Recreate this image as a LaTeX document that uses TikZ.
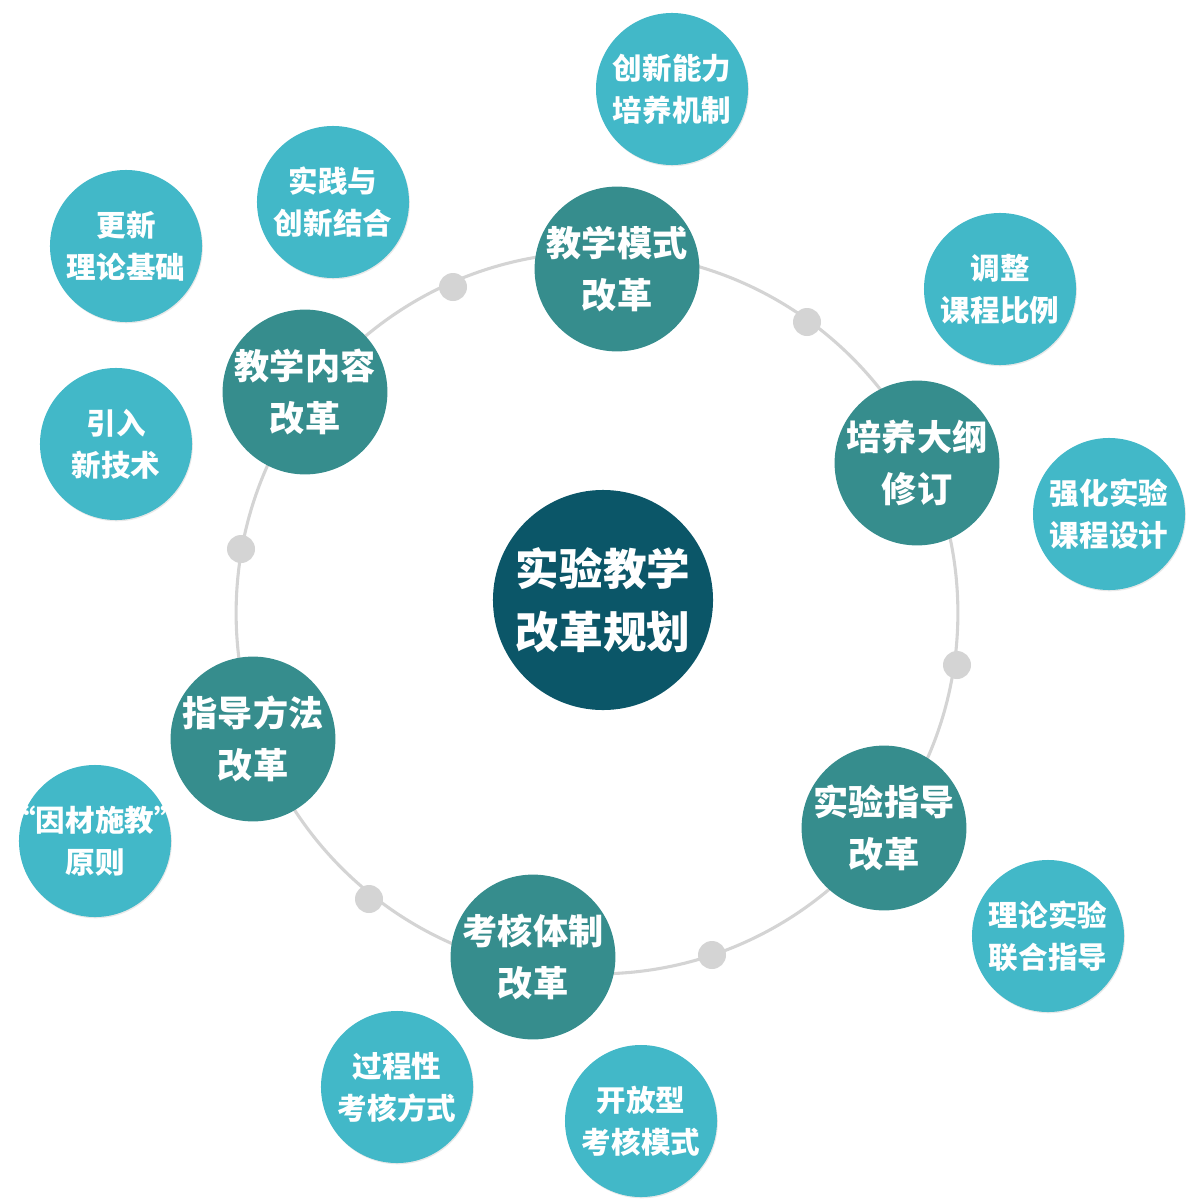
\documentclass[tikz,border=0pt]{standalone}
\usepackage{fontspec}
\newfontfamily\cjk{Noto Sans CJK SC}
\usetikzlibrary{shadows}

\definecolor{hubteal}{HTML}{0B5668}
\definecolor{midteal}{HTML}{368D8D}
\definecolor{leafblue}{HTML}{42B8C8}
\definecolor{ringgray}{HTML}{D4D4D4}

\tikzset{
  hub/.style={circle, fill=hubteal, text=white, minimum size=5.5cm, inner sep=0pt, align=center,
    font=\cjk\bfseries\fontsize{31}{45}\selectfont},
  area/.style={circle, fill=midteal, text=white, minimum size=4.12cm, inner sep=0pt, align=center,
    font=\cjk\bfseries\fontsize{25}{37}\selectfont},
  leaf/.style={circle, fill=leafblue, text=white, minimum size=3.8cm, inner sep=0pt, align=center,
    drop shadow={shadow xshift=.6pt, shadow yshift=-.9pt, opacity=.18},
    font=\cjk\bfseries\fontsize{21}{30}\selectfont},
  knot/.style={circle, fill=ringgray, minimum size=0.7cm, inner sep=0pt},
}

\begin{document}
\begin{tikzpicture}[x=0.025cm, y=-0.025cm]
    \useasboundingbox (0,0) rectangle (1201,1203);

    % Ring behind everything
    \coordinate (o) at (597,613);
    \draw[ringgray, line width=2.2pt] (o) circle (9.02cm);

    % Hub
    \node[hub] (plan) at (603,600) {实验教学\\改革规划};

    % Reform areas on the ring
    \node[area] (mode) at (617,269) {教学模式\\改革};
    \node[area] (outline) at (917,463) {培养大纲\\修订};
    \node[area] (guide) at (884,828) {实验指导\\改革};
    \node[area] (exam) at (533,957) {考核体制\\改革};
    \node[area] (method) at (253,739) {指导方法\\改革};
    \node[area] (content) at (305,392) {教学内容\\改革};

    % Dots between areas
    \node[knot] (k1) at (453,287) {};
    \node[knot] (k2) at (807,322) {};
    \node[knot] (k3) at (957,665) {};
    \node[knot] (k4) at (712,955) {};
    \node[knot] (k5) at (369,899) {};
    \node[knot] (k6) at (241,549) {};

    % Outer measures
    \node[leaf] (innov) at (672,89) {创新能力\\培养机制};
    \node[leaf] (practice) at (333,202) {实践与\\创新结合};
    \node[leaf] (theory) at (126,246) {更新\\理论基础};
    \node[leaf] (tech) at (116,444) {引入\\新技术};
    \node[leaf] (ratio) at (1000,289) {调整\\课程比例};
    \node[leaf] (design) at (1109,514) {强化实验\\课程设计};
    \node[leaf] (joint) at (1048,936) {理论实验\\联合指导};
    \node[leaf] (open) at (641,1121) {开放型\\考核模式};
    \node[leaf] (process) at (397,1087) {过程性\\考核方式};
    \node[leaf] (aptitude) at (95,841) {\makebox[0pt]{“因材施教”}\\原则};

\end{tikzpicture}
\end{document}
